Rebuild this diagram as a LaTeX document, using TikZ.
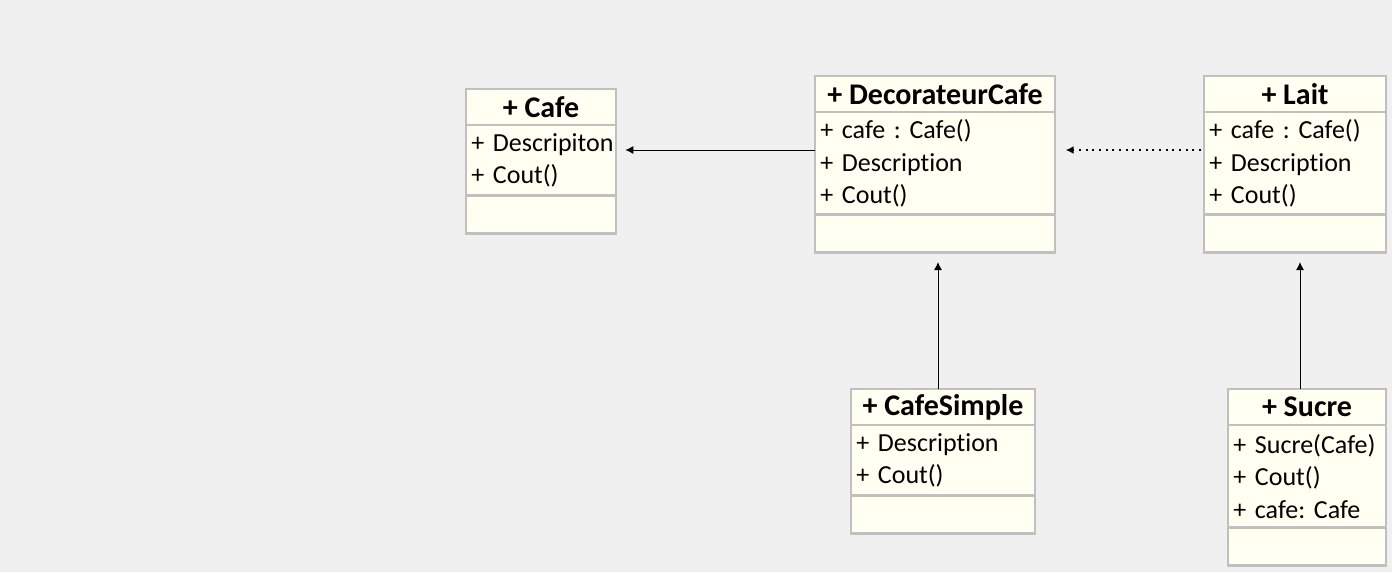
\documentclass[tikz,border=0pt]{standalone}
\usepackage{fontspec}
\setmainfont{Carlito}[RawFeature={-liga;-clig;-dlig}]
\usetikzlibrary{positioning,arrows.meta}

\definecolor{bgcol}{HTML}{F0F0F0}
\definecolor{boxfill}{HTML}{FFFFF2}
\definecolor{boxline}{HTML}{C0C0C0}

\newcommand\nohyph{\hyphenpenalty=10000\relax\hbadness=10000\relax}
\frenchspacing
\begin{document}
\begin{tikzpicture}[
   x=0.75pt,y=-0.75pt,
   every node/.style={inner sep=0pt,outer sep=0pt},
   classbox/.style={draw=boxline,fill=boxfill,line width=2.2pt},
   head/.style={classbox,anchor=north west,minimum height=27pt,font=\fontsize{22.5}{24}\selectfont\bfseries},
   attrs/.style={classbox,anchor=north,minimum height=#1,inner xsep=4pt,align=left,
      font=\fontsize{19.5}{24.3}\selectfont\nohyph},
   attrs/.default=53pt,
   ops/.style={classbox,anchor=north,minimum height=28.5pt},
   to/.style={-{Latex[length=6pt,width=6pt]},line width=0.75pt},
   dots/.style={to,dotted,line width=1.5pt,dash pattern=on 1.5pt off 3.5pt}]
\fill[bgcol] (0,0) rectangle (1392,572);
\useasboundingbox (0,0) rectangle (1392,572);

% Cafe
\node[head,minimum width=112.5pt] (cafeH) at (466,89) {+ Cafe};
\node[attrs=53pt,minimum width=112.5pt,text width=104.5pt] (cafeA) at (cafeH.south) {+~Descripiton\\+~Cout()};
\node[ops,minimum width=112.5pt] (cafeO) at (cafeA.south) {};

% DecorateurCafe
\node[head,minimum width=180pt] (decoH) at (815,76) {+ DecorateurCafe};
\node[attrs=77pt,minimum width=180pt,text width=172pt] (decoA) at (decoH.south) {+~cafe~:~Cafe()\\+~Description\\+~Cout()};
\node[ops,minimum width=180pt] (decoO) at (decoA.south) {};

% Lait
\node[head,minimum width=136.5pt] (laitH) at (1204,76) {+ Lait};
\node[attrs=77pt,minimum width=136.5pt,text width=128.5pt] (laitA) at (laitH.south) {+~cafe~:~Cafe()\\+~Description\\+~Cout()};
\node[ops,minimum width=136.5pt] (laitO) at (laitA.south) {};

% CafeSimple
\node[head,minimum width=138pt] (simpleH) at (851,389) {+ CafeSimple};
\node[attrs=53pt,minimum width=138pt,text width=130pt] (simpleA) at (simpleH.south) {+~Description\\+~Cout()};
\node[ops,minimum width=138pt] (simpleO) at (simpleA.south) {};

% Sucre
\node[head,minimum width=118.5pt] (sucreH) at (1228,389) {+ Sucre};
\node[attrs=77pt,minimum width=118.5pt,text width=110.5pt] (sucreA) at (sucreH.south) {+~Sucre(Cafe)\\+~Cout()\\+~cafe:~Cafe};
\node[ops,minimum width=118.5pt] (sucreO) at (sucreA.south) {};

% links
\draw[to] (decoA.west |- 0,150) -- ([xshift=7pt]cafeA.east |- 0,150);
\draw[dots] (laitA.west |- 0,150) ++(-3,0) -- ([xshift=8pt]decoA.east |- 0,150);
\draw[to] (simpleH.north -| 938,0) -- ([yshift=-7pt]decoO.south -| 938,0);
\draw[to] (sucreH.north -| 1300,0) -- ([yshift=-7pt]laitO.south -| 1300,0);
\end{tikzpicture}
\end{document}
